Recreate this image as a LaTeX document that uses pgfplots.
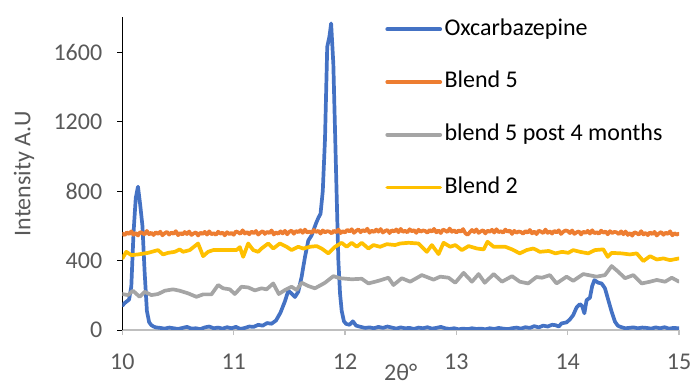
\documentclass[border=0pt]{standalone}
\usepackage{pgfplots}
\usepackage{pgfplotstable}
\pgfplotsset{compat=1.18}
\usepackage{fontspec}
\setmainfont{Carlito}
\definecolor{cblue}{HTML}{4472C4}
\definecolor{corange}{HTML}{ED7D31}
\definecolor{cgray}{HTML}{A5A5A5}
\definecolor{cgold}{HTML}{FFC000}
\definecolor{labgray}{HTML}{595959}
\definecolor{axgray}{HTML}{BFBFBF}

\pgfplotstableread{
x y
10.00 140
10.02 155
10.04 165
10.06 175
10.08 250
10.10 560
10.12 760
10.14 825
10.16 720
10.18 600
10.20 330
10.22 110
10.24 45
10.26 28
10.28 20
10.30 15
10.34 12
10.38 8
10.42 14
10.46 10
10.50 6
10.54 12
10.58 18
10.62 8
10.66 10
10.70 5
10.74 15
10.78 20
10.82 10
10.86 14
10.90 8
10.94 16
10.98 10
11.02 18
11.06 6
11.10 12
11.14 20
11.18 18
11.22 30
11.26 25
11.30 40
11.34 36
11.38 55
11.42 100
11.46 165
11.49 226
11.52 210
11.55 190
11.58 220
11.61 306
11.64 420
11.67 515
11.70 545
11.72 580
11.74 615
11.76 645
11.78 670
11.80 800
11.82 1100
11.84 1630
11.86 1690
11.875 1765
11.895 1530
11.91 1150
11.925 770
11.94 400
11.955 210
11.97 110
11.99 50
12.01 35
12.04 30
12.07 50
12.10 25
12.14 18
12.18 12
12.22 15
12.26 10
12.30 18
12.34 12
12.38 20
12.42 14
12.46 8
12.50 15
12.54 10
12.58 12
12.62 6
12.66 14
12.70 10
12.74 16
12.78 8
12.82 12
12.86 18
12.90 10
12.94 6
12.98 10
13.02 4
13.06 8
13.10 5
13.14 10
13.18 6
13.22 8
13.26 4
13.30 10
13.34 6
13.38 12
13.42 8
13.46 5
13.50 10
13.54 14
13.58 8
13.62 16
13.66 12
13.70 22
13.74 15
13.78 25
13.82 20
13.86 30
13.89 28
13.92 20
13.945 38
13.99 44
14.02 61
14.05 86
14.08 130
14.11 149
14.13 138
14.15 96
14.17 172
14.20 186
14.22 253
14.24 287
14.275 272
14.305 268
14.335 240
14.365 172
14.395 105
14.425 48
14.45 25
14.47 19
14.515 10
14.55 12
14.59 15
14.63 10
14.67 14
14.71 12
14.75 8
14.79 15
14.83 10
14.87 16
14.91 8
14.95 12
15.00 10
}\oxc

\pgfplotstableread{
x y
10.00 556
10.02 546
10.04 562
10.06 552
10.08 568
10.10 548
10.12 559
10.14 544
10.16 564
10.18 558
10.20 550
10.22 570
10.24 551
10.26 560
10.28 547
10.30 563
10.32 553
10.34 566
10.36 545
10.38 557
10.40 565
10.42 549
10.44 561
10.46 554
10.48 569
10.50 546
10.52 558
10.54 550
10.56 564
10.58 552
10.60 567
10.62 547
10.64 556
10.66 562
10.68 544
10.70 560
10.72 553
10.74 565
10.76 549
10.78 568
10.80 551
10.82 557
10.84 548
10.86 566
10.88 554
10.90 561
10.92 545
10.94 563
10.96 552
10.98 559
11.00 548
11.02 568
11.04 562
11.06 554
11.08 574
11.10 555
11.12 564
11.14 551
11.16 567
11.18 557
11.20 570
11.22 549
11.24 561
11.26 569
11.28 553
11.30 565
11.32 558
11.34 573
11.36 550
11.38 562
11.40 554
11.42 568
11.44 556
11.46 571
11.48 551
11.50 566
11.52 572
11.54 554
11.56 570
11.58 563
11.60 575
11.62 559
11.64 578
11.66 561
11.68 567
11.70 558
11.72 576
11.74 564
11.76 571
11.78 555
11.80 573
11.82 562
11.84 569
11.86 566
11.88 556
11.90 572
11.92 562
11.94 578
11.96 558
11.98 569
12.00 561
12.02 577
12.04 567
12.06 580
12.08 559
12.10 571
12.12 579
12.14 563
12.16 575
12.18 568
12.20 583
12.22 560
12.24 572
12.26 564
12.28 578
12.30 566
12.32 581
12.34 561
12.36 570
12.38 576
12.40 558
12.42 574
12.44 567
12.46 579
12.48 563
12.50 582
12.52 565
12.54 571
12.56 562
12.58 580
12.60 568
12.62 575
12.64 559
12.66 577
12.68 566
12.70 573
12.72 570
12.74 560
12.76 576
12.78 566
12.80 582
12.82 562
12.84 573
12.86 558
12.88 578
12.90 572
12.92 564
12.94 584
12.96 565
12.98 574
13.00 561
13.02 573
13.04 566
13.06 581
13.08 558
13.10 548
13.12 562
13.14 576
13.16 564
13.18 579
13.20 559
13.22 568
13.24 574
13.26 556
13.28 572
13.30 565
13.32 577
13.34 561
13.36 580
13.38 563
13.40 569
13.42 560
13.44 578
13.46 566
13.48 573
13.50 553
13.52 571
13.54 560
13.56 567
13.58 564
13.60 554
13.62 570
13.64 560
13.66 576
13.68 556
13.70 567
13.72 552
13.74 572
13.76 566
13.78 558
13.80 578
13.82 559
13.84 568
13.86 555
13.88 571
13.90 561
13.92 574
13.94 553
13.96 565
13.98 573
14.00 570
14.02 558
14.04 573
14.06 553
14.08 562
14.10 568
14.12 550
14.14 566
14.16 559
14.18 571
14.20 555
14.22 574
14.24 557
14.26 563
14.28 554
14.30 572
14.32 560
14.34 567
14.36 551
14.38 569
14.40 558
14.42 565
14.44 562
14.46 552
14.48 568
14.50 551
14.52 567
14.54 547
14.56 558
14.58 543
14.60 563
14.62 557
14.64 549
14.66 569
14.68 550
14.70 559
14.72 546
14.74 562
14.76 552
14.78 565
14.80 544
14.82 556
14.84 564
14.86 548
14.88 560
14.90 553
14.92 568
14.94 545
14.96 557
14.98 549
15.00 555
}\bfive

\pgfplotstableread{
x y
10.00 207
10.05 201
10.095 226
10.155 191
10.20 220
10.26 201
10.32 207
10.38 226
10.455 234
10.515 226
10.59 211
10.665 191
10.725 205
10.80 205
10.86 259
10.905 240
10.965 234
11.01 207
11.07 249
11.13 245
11.19 228
11.25 240
11.295 234
11.355 268
11.405 207
11.46 230
11.52 249
11.565 230
11.61 272
11.67 253
11.73 240
11.82 272
11.895 310
11.955 298
12.06 292
12.15 295
12.21 268
12.30 283
12.39 301
12.435 259
12.51 298
12.585 278
12.69 316
12.795 290
12.855 307
12.93 301
12.99 272
13.065 329
13.14 278
13.20 322
13.255 272
13.335 322
13.41 278
13.50 310
13.57 278
13.645 268
13.72 305
13.77 301
13.84 316
13.90 268
13.99 307
14.05 283
14.14 322
14.26 307
14.335 316
14.395 368
14.455 335
14.515 298
14.59 316
14.665 268
14.74 278
14.80 288
14.875 278
14.935 301
15.00 278
}\bpost

\pgfplotstableread{
x y
10.00 412
10.035 450
10.08 431
10.14 435
10.23 444
10.32 460
10.365 435
10.41 444
10.47 450
10.515 464
10.545 450
10.605 460
10.68 498
10.725 425
10.77 450
10.815 460
10.92 460
11.025 460
11.055 477
11.085 421
11.13 498
11.175 460
11.22 450
11.25 469
11.31 498
11.355 469
11.415 498
11.475 479
11.52 460
11.58 479
11.625 469
11.685 479
11.745 483
11.79 469
11.85 441
11.91 479
11.97 502
12.015 479
12.06 502
12.105 479
12.15 502
12.21 469
12.255 489
12.315 479
12.375 494
12.45 489
12.495 498
12.57 502
12.66 498
12.69 479
12.735 450
12.78 489
12.84 437
12.885 502
12.945 479
12.99 489
13.05 460
13.11 483
13.185 469
13.245 464
13.28 508
13.335 479
13.44 479
13.50 464
13.57 441
13.63 460
13.69 469
13.71 464
13.75 450
13.83 455
13.89 441
13.95 450
14.005 444
14.05 460
14.11 450
14.185 441
14.245 460
14.32 464
14.36 421
14.395 444
14.485 441
14.56 435
14.62 441
14.68 397
14.74 425
14.80 406
14.86 412
14.92 402
15.00 412
}\btwo

\begin{document}
\begin{tikzpicture}
\begin{axis}[
  scale only axis,
  width=556.6bp, height=312.7bp,
  xmin=10, xmax=15, ymin=0, ymax=1800,
  xtick={10,11,12,13,14,15},
  ytick={0,400,800,1200,1600},
  axis x line=bottom, axis y line=left,
  x axis line style={-, draw=axgray, line width=1.3bp},
  y axis line style={-, draw=black, line width=1.3bp},
  tick align=outside, major tick length=5bp,
  xtick style={draw=axgray, line width=1.3bp},
  ytick style={draw=black, line width=1bp},
  /pgf/number format/assume math mode=true,
  /pgf/number format/1000 sep={},
  ticklabel style={font=\fontsize{24bp}{28bp}\selectfont, text=labgray},
  xticklabel style={anchor=north, inner sep=0pt, yshift=-19bp},
  yticklabel style={anchor=east, inner sep=0pt, xshift=-15bp},
  xlabel={2θ°}, ylabel={Intensity A.U},
  every axis x label/.style={at={(rel axis cs:0.5,0)}, yshift=-42bp, anchor=center,
    font=\fontsize{24bp}{28bp}\selectfont, text=labgray},
  every axis y label/.style={at={(rel axis cs:0,0.5)}, xshift=-98.4bp, rotate=90, anchor=center,
    font=\fontsize{24bp}{28bp}\selectfont, text=labgray},
  legend cell align=left,
  legend image code/.code={\draw[#1] (0bp,0.5bp) -- (53bp,0.5bp);},
  legend style={at={(rel axis cs:0,1)}, anchor=north west, xshift=263bp, yshift=-1bp,
    draw=none, fill=none, inner sep=0pt, outer sep=0pt,
    font=\fontsize{24bp}{28bp}\selectfont, text=black,
    row sep=29.7bp, column sep=2.4bp,
    nodes={inner sep=0pt, text height=17bp, text depth=6bp}},
  every axis plot/.append style={line width=3.7bp, line join=round, line cap=round, no markers},
]
\addplot[cblue] table {\oxc};
\addlegendentry{Oxcarbazepine}
\addplot[corange] table {\bfive};
\addlegendentry{Blend 5}
\addplot[cgray] table {\bpost};
\addlegendentry{blend 5 post 4 months}
\addplot[cgold] table {\btwo};
\addlegendentry{Blend 2}
\coordinate (bl) at (rel axis cs:0,0);
\coordinate (tr) at (rel axis cs:1,1);
\end{axis}
\pgfresetboundingbox
\path ([shift={(-122.4bp,-55bp)}]bl) rectangle ([shift={(12bp,17.3bp)}]tr);
\end{tikzpicture}
\end{document}
